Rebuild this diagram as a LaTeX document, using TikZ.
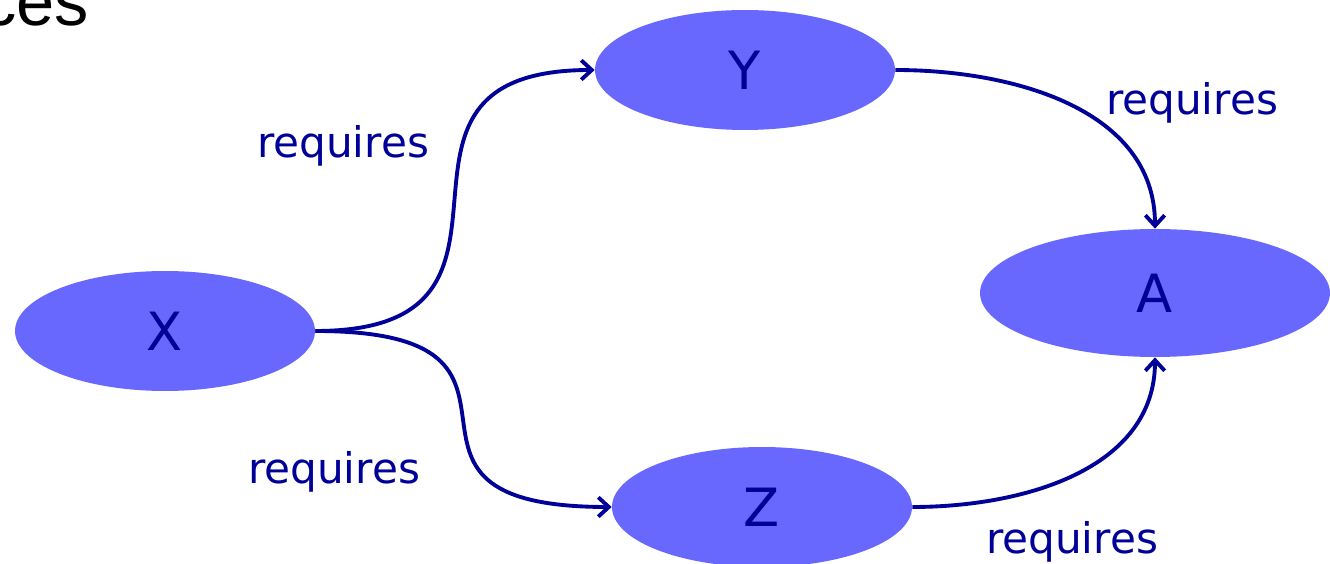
\documentclass[tikz,border=0pt]{standalone}
\usepackage{fontspec}
\setmainfont{DejaVu Sans}
\newfontfamily\titlefont{Liberation Sans}
\usepackage{tikz}
\usetikzlibrary{shapes.geometric,arrows.meta}
\definecolor{nodeblue}{RGB}{104,104,255}
\definecolor{navy}{RGB}{0,0,153}

\begin{document}
\begin{tikzpicture}[x=0.02cm, y=-0.02cm]
	\tikzstyle{every node} = [text = navy]
	\tikzstyle{concept} = [ellipse, fill = nodeblue, minimum width = 6cm, minimum height = 2.4cm, inner sep = 0pt, font = \fontsize{30}{36}\selectfont]
	\tikzstyle{rel} = [draw = navy, line width = 2.2pt, -{Straight Barb[length=6pt, width=11pt]}]
	\tikzstyle{lbl} = [anchor = base, font = \fontsize{24}{29}\selectfont]
\useasboundingbox (0,0) rectangle (1330,564);
\node[anchor = base east, text = black, font = \titlefont\fontsize{39}{46}\selectfont] (title) at (95,26) {ces};
\node[concept] (X) at (165, 331) {X};
\node[concept] (Y) at (745, 70) {Y};
\node[concept, minimum width = 7cm, minimum height = 2.56cm] (A) at (1155, 293) {A};
\node[concept] (Z) at (762, 507) {Z};
	\draw[rel] (X.east) to[out = 0, in = 180, looseness = 1.7] (Y.west);
	\draw[rel] (X.east) to[out = 0, in = 180, looseness = 2.0] (Z.west);
	\draw[rel] (Y.east) to[out = 0, in = 90] (A.north);
	\draw[rel] (Z.east) to[out = 0, in = -90] (A.south);
\node[lbl] (l1) at (343, 158) {requires};
\node[lbl] (l2) at (1192, 115) {requires};
\node[lbl] (l3) at (334, 483) {requires};
\node[lbl] (l4) at (1072, 553) {requires};
\end{tikzpicture}
\end{document}
